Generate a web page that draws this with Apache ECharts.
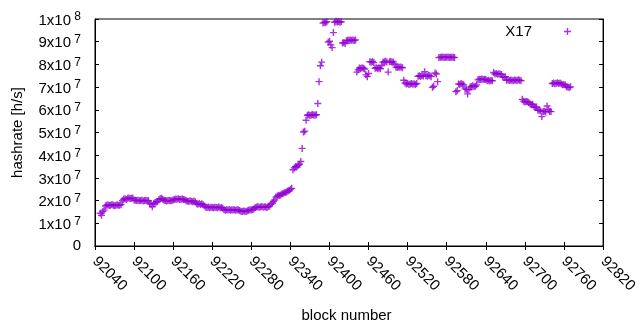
<!DOCTYPE html>
<html>
<head>
<meta charset="utf-8">
<title>hashrate</title>
<script src="https://cdn.jsdelivr.net/npm/echarts@6/dist/echarts.min.js"></script>
<style>
  html, body { margin: 0; padding: 0; background: #fff; }
  #main { width: 640px; height: 330px; }
</style>
</head>
<body>
<div id="main"></div>
<script>
// block numbers go up by 2 from firstBlock, one hashrate value (in 1e6 h/s) per entry
var firstBlock = 92048;
var blockStep = 2;
var hashrateM = [
  14.4, 13.5, 15.2, 15.8, 17.6, 18, 18.2, 17.8, 18, 18.3, 18, 17.7, 18, 18.2, 18, 17.9, 18.3,
  20, 20.6, 20.8, 20.5, 21, 21.2, 20.9, 21, 21.1,
  20.3, 20.1, 20, 20.2, 19.9, 20, 20.1, 19.8, 20, 20.2, 19.9, 20,
  18.8, 18.4, 17.3, 18.6, 19, 19.4, 19.6,
  20.4, 20.8, 21, 20.6, 20.2, 20, 19.8, 20, 20.1, 19.9, 20,
  20.3, 20.5, 20.7, 20.6, 20.8, 20.5, 20.6, 20.7, 20.5, 20.4,
  19.9, 19.8, 19.6, 19.9, 19.7, 19.5, 19.8, 19.4,
  18.6, 18.4, 18.7, 18.3, 18.6, 18.2,
  17.6, 17.2, 17, 17.2, 16.9, 17.1, 17, 16.8, 17.1, 17, 16.9, 17.2, 16.8, 17, 16.6,
  16, 15.8, 16, 15.9, 16.1, 15.8, 16, 15.9, 16, 15.7, 16, 15.9, 15.6,
  15.3, 15.2, 15.4, 15.3, 15.2, 15.5,
  15.8, 16, 15.9, 16.1, 16.4,
  17, 17.2, 17.3, 17.1, 17.2, 17.4, 17.1, 17.3, 17.2, 17, 17.4, 17.6,
  18.4, 19, 19.6, 20.2, 21.6, 22, 22.4, 22.2, 22.8, 23, 23.4, 23.6, 23.8, 24.2, 24.4, 25, 25.4,
  33.6, 34.4, 35, 34.8, 35.6, 36, 37.2, 43, 50.2, 50.6, 55.4,
  57.6, 57.8, 57.5, 57.7, 57.9, 57.6, 57.7, 57.8,
  62.8, 72.4, 79.4, 81,
  98.2, 98.6, 98.4, 98.8, 89.8, 90.2, 88.6, 87.4, 94,
  98.6, 99, 98.7, 98.9, 98.6, 98.8,
  89.4, 89.6, 89.2, 90.4, 90.7, 90.5, 90.8, 90.6, 90.7, 90.5, 90.8,
  76.6, 77.6, 78.4, 78.2, 78.5, 78.3, 78, 75.4, 74.6, 76,
  81.2, 81, 81.3, 80.8,
  78.3, 78.5, 78.2, 78.4, 78.1, 79.5,
  81, 81.2, 81.4, 81.1, 76.6, 81.2, 81.3, 81, 81.1, 80.2,
  78.8, 78.6, 78.9, 78.7, 78.8, 78.5,
  73, 71.8, 71.4, 71.6, 71.2, 71.4, 71.6, 71.3, 71.5, 71.2, 71.6,
  74.8, 75, 74.7, 75.1, 74.9, 76.8, 75, 74.8, 75.2, 75, 74.6,
  69.9, 70.4, 76.2, 75.8, 72.4,
  83, 83.2, 83.1, 83.3, 83, 83.2, 83.1, 83.3, 83, 83.2, 83.1, 83.2, 83,
  68, 68.4, 71.4, 71.2, 71.6, 71.3, 71, 69.2, 69, 67, 68.8,
  70, 70.3, 70.6, 70.2, 70.4, 71,
  73.2, 73.5, 73.4, 73.6, 73.3, 73.5, 73.4, 72.8, 73, 72.7, 72.9, 72.8,
  76.4, 75.8, 76, 75.7, 75.9, 75.8, 75.6, 74.5, 74.3, 74.6,
  73, 73.2, 72.9, 73.1, 73, 72.8, 73.1, 73, 72.9, 73.2, 73, 72.8,
  64.6, 63.8, 63.4, 63.7, 63.5, 63.2, 62.6, 62.2, 62.5, 61.4, 61, 61.2,
  59.8, 59.9, 59.5, 57, 59.2, 59.4, 59, 61.7, 60, 59.3, 59.2,
  71.6, 71.8, 71.5, 71.7, 71.9, 71.6, 71.8, 71.4, 71, 71.2, 70.9,
  70.2, 70, 69.8, 70.1
];

// gnuplot style "+" point
var plus = 'path://M4,0h2v4h4v2h-4v4h-2v-4h-4v-2h4z';
var font = 'Liberation Sans';

var points = hashrateM.map(function (v, i) {
  return [firstBlock + i * blockStep, v * 1e6];
});

var myChart = echarts.init(document.getElementById('main'));

var option = {
  animation: false,
  textStyle: { fontFamily: font, color: '#000' },
  grid: {
    left: 95, right: 30, top: 19, bottom: 84,
    show: true, borderColor: '#000', borderWidth: 1
  },
  legend: {
    data: [{ name: 'X17', icon: plus }],
    align: 'right',
    right: 64,
    top: 19,
    itemWidth: 61,
    itemHeight: 7,
    textStyle: { fontSize: 15, color: '#000', fontFamily: font },
    selectedMode: false
  },
  xAxis: [
    {
      type: 'value',
      min: 92040,
      max: 92820,
      interval: 60,
      position: 'bottom',
      name: 'block number',
      nameLocation: 'middle',
      nameGap: 62,
      nameTextStyle: { fontSize: 15, color: '#000', fontFamily: font, padding: [0, 5, 0, 0] },
      axisLine: { onZero: false, lineStyle: { color: '#000', width: 1 } },
      axisTick: { inside: true, length: 4, lineStyle: { color: '#000' } },
      axisLabel: {
        rotate: -45,
        margin: 13,
        fontSize: 15,
        color: '#000',
        fontFamily: font,
        showMinLabel: true,
        showMaxLabel: true,
        formatter: function (v) { return String(v); }
      },
      splitLine: { show: false }
    },
    {
      type: 'value',
      min: 92040,
      max: 92820,
      interval: 60,
      position: 'top',
      axisLine: { lineStyle: { color: '#000', width: 1 } },
      axisTick: { inside: true, length: 4, lineStyle: { color: '#000' } },
      axisLabel: { show: false },
      splitLine: { show: false }
    }
  ],
  yAxis: [
    {
      type: 'value',
      min: 0,
      max: 1e8,
      interval: 1e7,
      name: 'hashrate [h/s]',
      nameLocation: 'middle',
      nameGap: 70,
      nameTextStyle: { fontSize: 15, color: '#000', fontFamily: font },
      axisLine: { show: true, lineStyle: { color: '#000', width: 1 } },
      axisTick: { inside: true, length: 4, lineStyle: { color: '#000' } },
      axisLabel: {
        margin: 14,
        color: '#000',
        fontSize: 15,
        fontFamily: font,
        formatter: function (v) {
          if (v === 0) return '0';
          var e = Math.floor(Math.log10(v) + 1e-9);
          var m = Math.round(v / Math.pow(10, e));
          return '{b|' + m + 'x10}{s| ' + e + '}';
        },
        rich: {
          b: { fontSize: 15, fontFamily: font, color: '#000', lineHeight: 18, verticalAlign: 'bottom' },
          s: { fontSize: 12, fontFamily: font, color: '#000', lineHeight: 18, verticalAlign: 'bottom', padding: [0, 0, 5, 0] }
        }
      },
      splitLine: { show: false }
    },
    {
      type: 'value',
      min: 0,
      max: 1e8,
      interval: 1e7,
      position: 'right',
      axisLine: { show: true, lineStyle: { color: '#000', width: 1 } },
      axisTick: { inside: true, length: 4, lineStyle: { color: '#000' } },
      axisLabel: { show: false },
      splitLine: { show: false }
    }
  ],
  series: [
    {
      name: 'X17',
      type: 'scatter',
      symbol: plus,
      symbolSize: 7,
      itemStyle: { color: '#9400d3' },
      data: points
    }
  ]
};

myChart.setOption(option);
</script>
</body>
</html>
